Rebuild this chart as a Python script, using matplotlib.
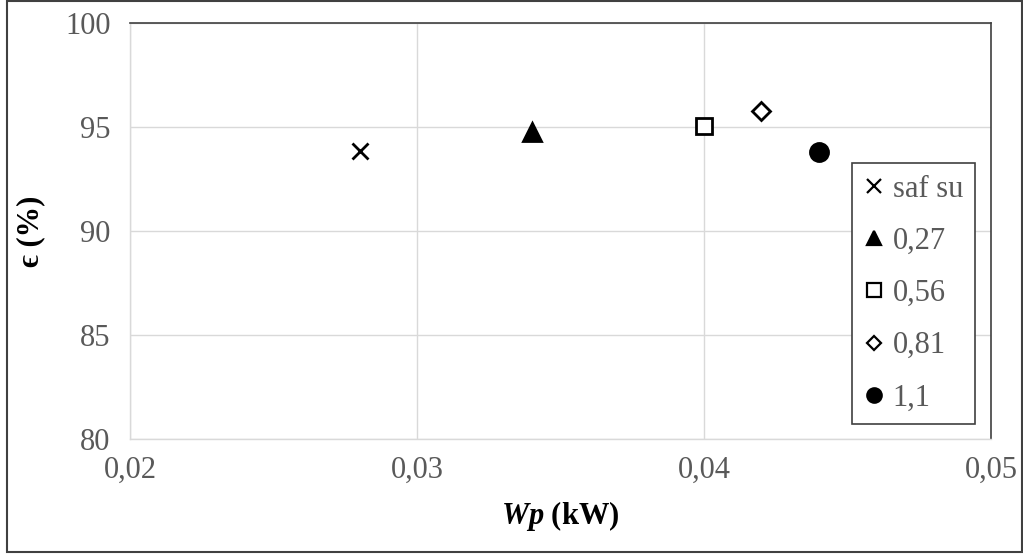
import matplotlib
matplotlib.use("Agg")
import matplotlib.pyplot as plt
from matplotlib.ticker import FuncFormatter, MultipleLocator
from matplotlib.lines import Line2D

plt.rcParams['font.family'] = ['Liberation Serif', 'DejaVu Serif']
plt.rcParams['mathtext.fontset'] = 'custom'
plt.rcParams['mathtext.rm'] = 'Liberation Serif:bold'
plt.rcParams['mathtext.it'] = 'Liberation Serif:italic:bold'
plt.rcParams['mathtext.bf'] = 'Liberation Serif:bold'

# series (Wp in kW, efficiency in %)
labels = ['saf su', '0,27', '0,56', '0,81', '1,1']
wp = [0.028, 0.034, 0.040, 0.042, 0.044]
eff = [93.85, 94.75, 95.05, 95.75, 93.8]
markers = ['x', '^', 's', 'D', 'o']
sizes = [12, 13, 12, 9, 13]
faces = ['k', 'k', 'white', 'white', 'k']

fig = plt.figure(figsize=(10.23, 5.54), dpi=100)
ax = fig.add_axes([130 / 1023, 1 - 439 / 554, 861 / 1023, 416 / 554])

for x, y, lab, m, s, fc in zip(wp, eff, labels, markers, sizes, faces):
    ax.plot([x], [y], linestyle='none', marker=m, markersize=s,
            markerfacecolor=fc, markeredgecolor='k', markeredgewidth=2,
            label=lab)

ax.set_xlim(0.02, 0.05)
ax.set_ylim(80, 100)
ax.xaxis.set_major_locator(MultipleLocator(0.01))
ax.yaxis.set_major_locator(MultipleLocator(5))
ax.xaxis.set_major_formatter(FuncFormatter(lambda v, p: f"{v:.2f}".replace('.', ',')))
ax.yaxis.set_major_formatter(FuncFormatter(lambda v, p: f"{v:.0f}"))
ax.tick_params(length=0, labelsize=22, labelcolor='#595959')
ax.tick_params(axis='y', pad=14)
ax.tick_params(axis='x', pad=12)
ax.grid(True, color='#d9d9d9', linewidth=1)
ax.set_axisbelow(True)

for side in ['left', 'bottom']:
    ax.spines[side].set_color('#d9d9d9')
    ax.spines[side].set_linewidth(1)
for side in ['top', 'right']:
    ax.spines[side].set_color('#404040')
    ax.spines[side].set_linewidth(1.2)

ax.set_xlabel(r'$Wp$ (kW)', fontsize=22, fontweight='bold', labelpad=10)
ax.set_ylabel('ϵ (%)', fontsize=22, fontweight='bold', labelpad=14)

leg_handles = []
for lab, m, s, fc in zip(labels, markers, sizes, faces):
    leg_handles.append(Line2D([], [], linestyle='none', marker=m, markersize=s * 0.8,
                              markerfacecolor=fc, markeredgecolor='k',
                              markeredgewidth=1.6, label=lab))
leg = fig.legend(handles=leg_handles, loc='upper left',
                 bbox_to_anchor=(852 / 1023, 1 - 163 / 554),
                 fontsize=22, frameon=True, fancybox=False,
                 handlelength=0.7, handletextpad=0.25, labelspacing=0.76,
                 borderpad=0.38, borderaxespad=0, framealpha=1)
leg.get_frame().set_edgecolor('#404040')
leg.get_frame().set_linewidth(1.2)
for t in leg.get_texts():
    t.set_color('#595959')

# outer chart border
fig.add_artist(plt.Rectangle((7 / 1023, 2 / 554), 1 - 8 / 1023, 1 - 3 / 554,
                             transform=fig.transFigure, fill=False,
                             edgecolor='#404040', linewidth=1.5))

fig.savefig('out.png', dpi=100)
